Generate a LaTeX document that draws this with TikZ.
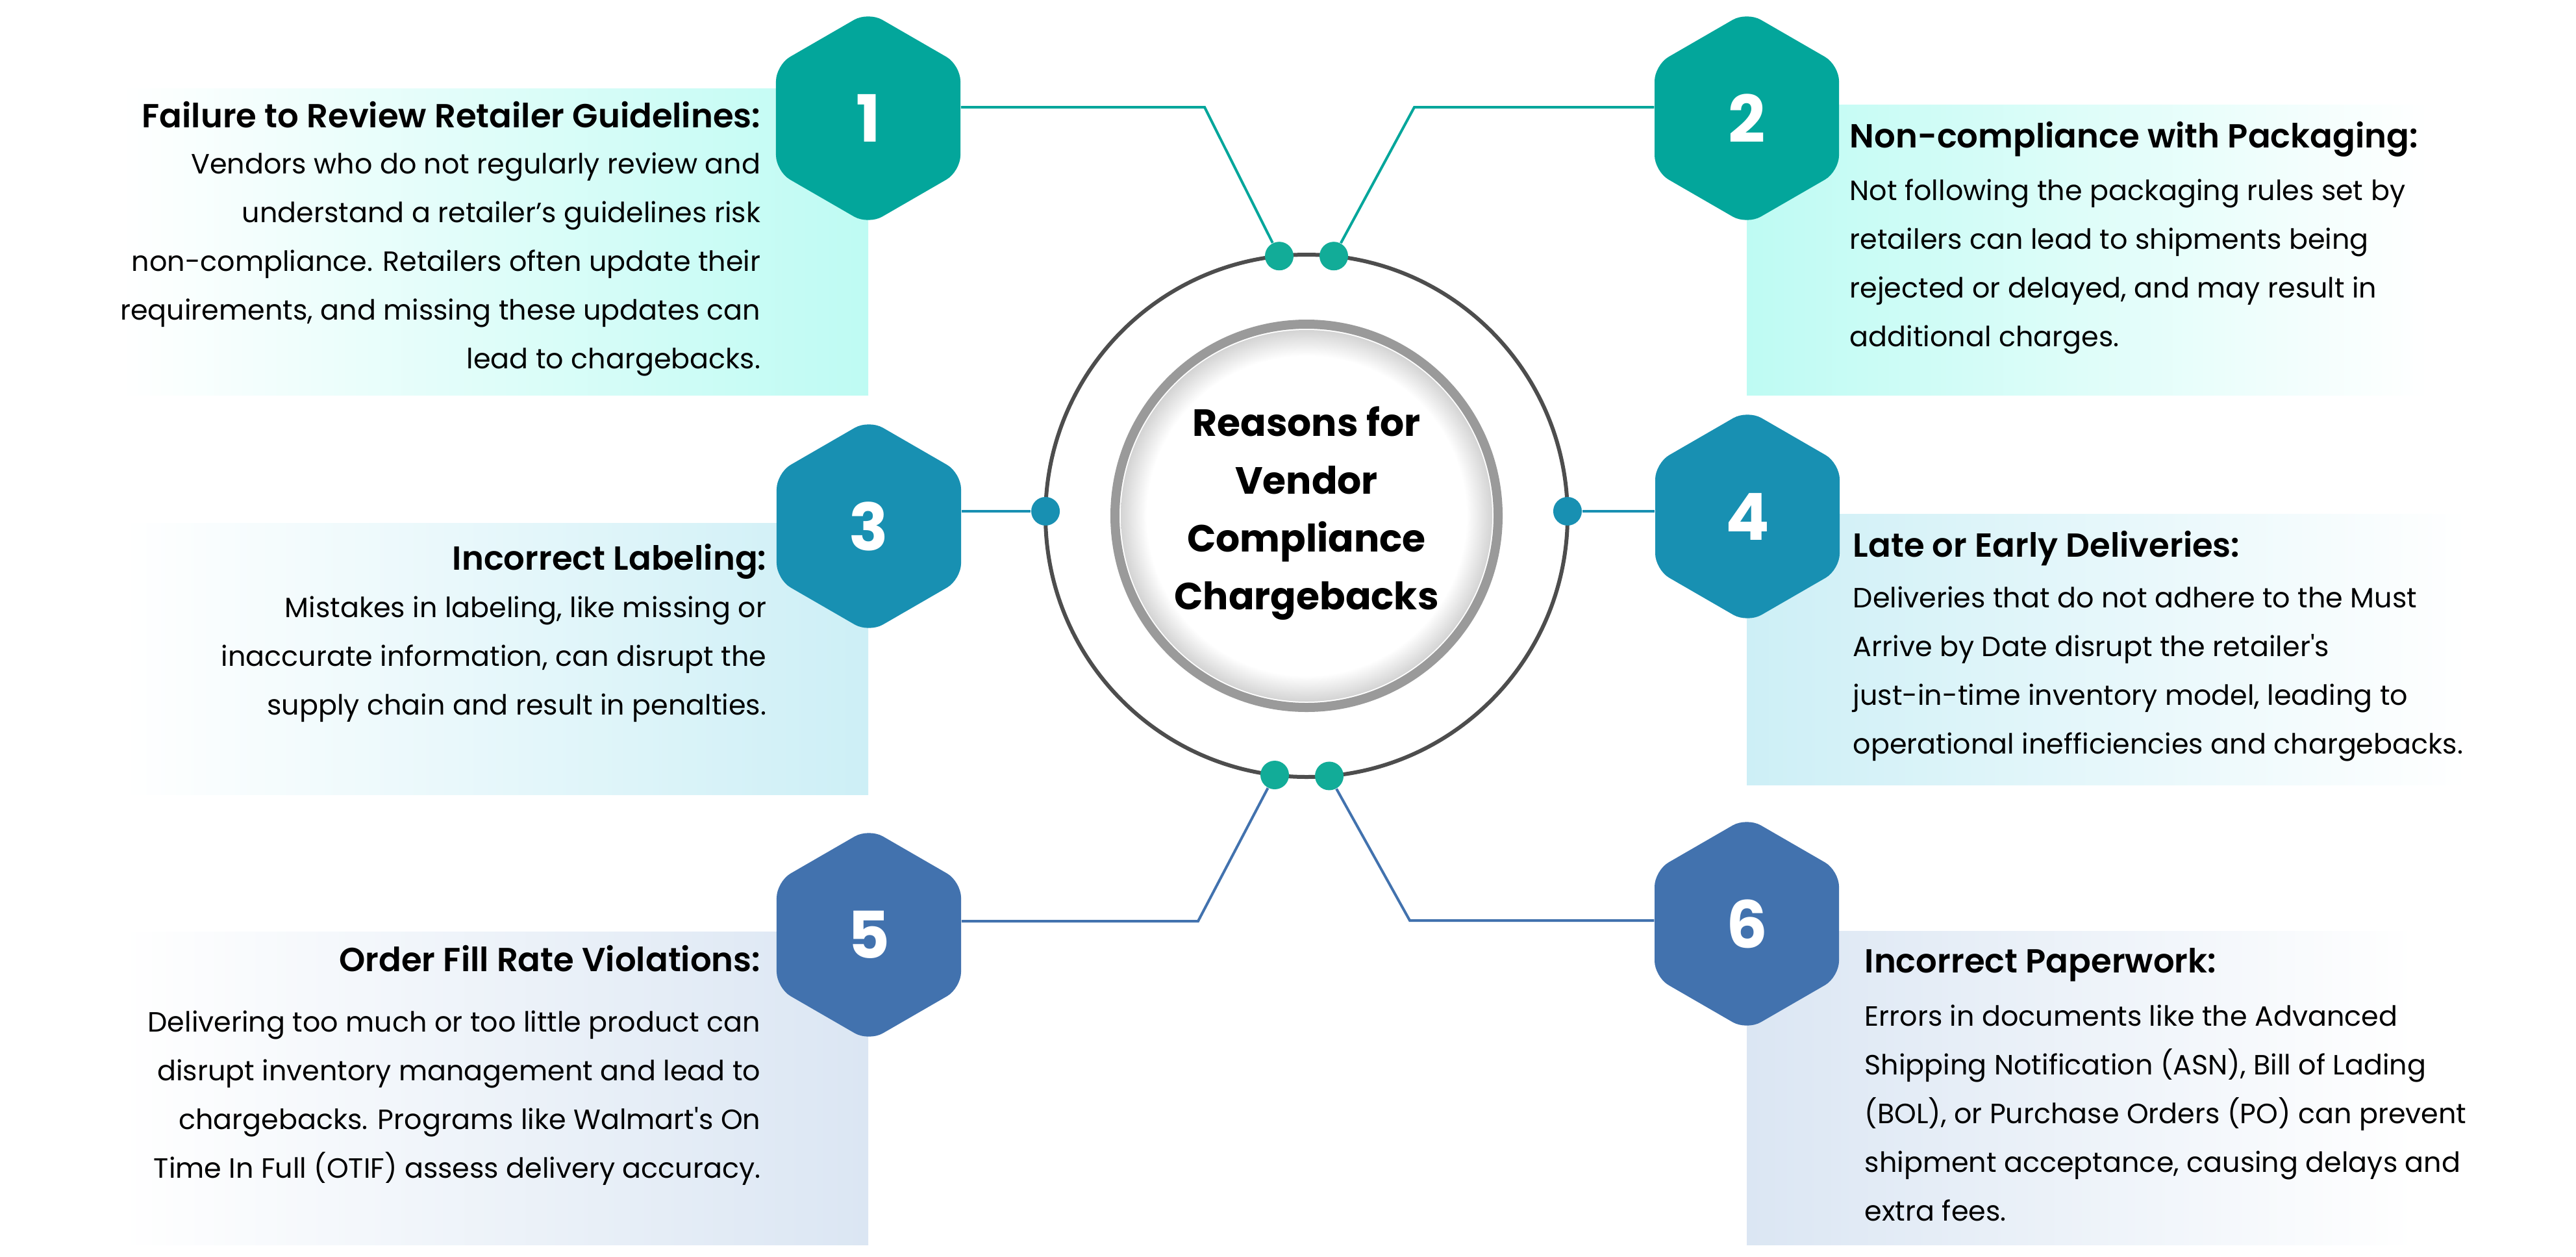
\documentclass[tikz,border=0pt]{standalone}
\usepackage{fontspec}
\setmainfont{Poppins}
\newfontfamily\semibold{Poppins SemiBold}
\usetikzlibrary{shapes.geometric,positioning}

\definecolor{hexteal}{HTML}{03A69B}
\definecolor{hexblue}{HTML}{1890B2}
\definecolor{hexnavy}{HTML}{4272AE}
\definecolor{dotteal}{HTML}{12AC98}
\definecolor{panelteal}{HTML}{BEFBF3}
\definecolor{panelblue}{HTML}{CDEFF6}
\definecolor{panelnavy}{HTML}{DBE6F3}
\definecolor{ringdark}{HTML}{4D4D4D}
\definecolor{ringgray}{HTML}{9A9A9A}

\pgfdeclareradialshading{coreshade}{\pgfpoint{0bp}{0bp}}{color(0bp)=(white); color(21.5bp)=(white); color(25bp)=(black!17); color(50bp)=(black!17)}

\tikzset{
  hexbox/.style={regular polygon, regular polygon sides=6, shape border rotate=30,
    minimum size=3.28cm, inner sep=0pt, rounded corners=0.25cm, fill=#1, text=white,
    font=\bfseries\fontsize{28.5pt}{30pt}\selectfont},
  dotnode/.style={circle, fill=#1, minimum size=0.44cm, inner sep=0pt},
  link/.style={draw=#1, line width=0.04cm},
  headtext/.style={inner sep=0pt, font=\semibold\fontsize{14.6pt}{18pt}\selectfont},
  bodytext/.style={inner sep=0pt, font=\fontsize{12.2pt}{21.3pt}\selectfont},
}

\begin{document}
\begin{tikzpicture}
    \useasboundingbox[fill=white] (0,0) rectangle (39.67,-19.34);

    % Panels
    \shade[left color=white, right color=panelteal] (1.86,-1.36) rectangle (13.37,-6.08);
    \shade[left color=panelteal, right color=white] (26.90,-1.61) rectangle (37.40,-6.08);
    \shade[left color=white, right color=panelblue] (1.90,-8.05) rectangle (13.37,-12.23);
    \shade[left color=panelblue, right color=white] (26.90,-7.91) rectangle (38.00,-12.08);
    \shade[left color=white, right color=panelnavy] (1.86,-14.34) rectangle (13.37,-19.16);
    \shade[left color=panelnavy, right color=white] (26.90,-14.33) rectangle (37.20,-19.16);

    % Centre
    \node[circle, draw=ringdark, line width=0.06cm, minimum size=8.04cm, inner sep=0pt, outer sep=0pt] (RING) at (20.12,-7.94) {};
    \shade[shading=coreshade] (RING.center) circle (2.86);
    \node[circle, draw=ringgray, line width=0.14cm, minimum size=5.9cm, inner sep=0pt] (CORE) at (RING.center) {};
    \node[align=center, inner sep=0pt, font=\bfseries\fontsize{16.6pt}{25.3pt}\selectfont] (TITLE) at (20.12,-7.90)
        {Reasons for\\Vendor\\Compliance\\Chargebacks};

    % Hexagons
    \node[hexbox=hexteal] (H1) at (13.37,-1.82) {1};
    \node[hexbox=hexteal] (H2) at (26.90,-1.82) {2};
    \node[hexbox=hexblue] (H3) at (13.38,-8.10) {3};
    \node[hexbox=hexblue] (H4) at (26.91,-7.95) {4};
    \node[hexbox=hexnavy] (H5) at (13.38,-14.39) {5};
    \node[hexbox=hexnavy] (H6) at (26.90,-14.22) {6};

    % Dots
    \node[dotnode=dotteal] (D1) at (RING.96) {};
    \node[dotnode=dotteal] (D2) at (RING.84.5) {};
    \node[dotnode=hexblue] (D3) at (RING.179) {};
    \node[dotnode=hexblue] (D4) at (RING.1) {};
    \node[dotnode=dotteal] (D5) at (RING.263) {};
    \node[dotnode=dotteal] (D6) at (RING.275) {};

    % Links
    \coordinate (K1) at (18.55,-1.65);
    \coordinate (K2) at (21.78,-1.65);
    \coordinate (K5) at (18.45,-14.18);
    \coordinate (K6) at (21.71,-14.17);
    \draw[link=hexteal] (K1 -| H1.east) -- (K1) -- (D1);
    \draw[link=hexteal] (K2 -| H2.west) -- (K2) -- (D2);
    \draw[link=hexblue] (D3) -- (D3 -| H3.east);
    \draw[link=hexblue] (D4) -- (D4 -| H4.west);
    \draw[link=hexnavy] (K5 -| H5.east) -- (K5) -- (D5);
    \draw[link=hexnavy] (K6 -| H6.west) -- (K6) -- (D6);

    % Texts (body nodes sit on the baseline of their last line)
    \node[headtext, anchor=base east] (T1) at (11.72,-1.96) {Failure to Review Retailer Guidelines:};
    \node[bodytext, align=right, anchor=base east] (B1) at (11.72,-5.67)
        {Vendors who do not regularly review and\\understand a retailer’s guidelines risk\\non-compliance. Retailers often update their\\requirements, and missing these updates can\\lead to chargebacks.};
    \node[headtext, anchor=base west] (T2) at (28.48,-2.27) {Non-compliance with Packaging:};
    \node[bodytext, align=left, anchor=base west] (B2) at (28.48,-5.33)
        {Not following the packaging rules set by\\retailers can lead to shipments being\\rejected or delayed, and may result in\\additional charges.};
    \node[headtext, anchor=base east] (T3) at (11.81,-8.77) {Incorrect Labeling:};
    \node[bodytext, align=right, anchor=base east] (B3) at (11.81,-11.00)
        {Mistakes in labeling, like missing or\\inaccurate information, can disrupt the\\supply chain and result in penalties.};
    \node[headtext, anchor=base west] (T4) at (28.53,-8.57) {Late or Early Deliveries:};
    \node[bodytext, align=left, anchor=base west] (B4) at (28.53,-11.60)
        {Deliveries that do not adhere to the Must\\Arrive by Date disrupt the retailer\textquotesingle s\\just-in-time inventory model, leading to\\operational inefficiencies and chargebacks.};
    \node[headtext, anchor=base east] (T5) at (11.72,-14.95) {Order Fill Rate Violations:};
    \node[bodytext, align=right, anchor=base east] (B5) at (11.72,-18.13)
        {Delivering too much or too little product can\\disrupt inventory management and lead to\\chargebacks. Programs like Walmart\textquotesingle s On\\Time In Full (OTIF) assess delivery accuracy.};
    \node[headtext, anchor=base west] (T6) at (28.71,-14.97) {Incorrect Paperwork:};
    \node[bodytext, align=left, anchor=base west] (B6) at (28.71,-18.79)
        {Errors in documents like the Advanced\\Shipping Notification (ASN), Bill of Lading\\(BOL), or Purchase Orders (PO) can prevent\\shipment acceptance, causing delays and\\extra fees.};
\end{tikzpicture}
\end{document}
